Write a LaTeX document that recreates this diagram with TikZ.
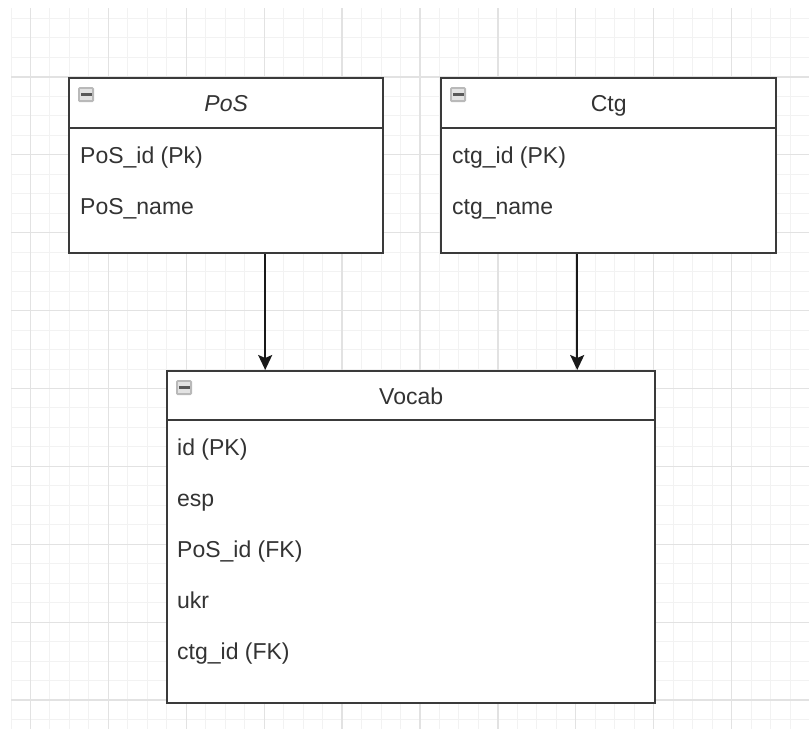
\documentclass[tikz,border=0pt]{standalone}
\usepackage{fontspec}
\setmainfont{Liberation Sans}
\usetikzlibrary{arrows.meta,calc}
\definecolor{ink}{HTML}{333333}
\definecolor{edge}{HTML}{3A3A3A}
\definecolor{gridminor}{HTML}{F2F2F2}
\definecolor{gridmajor}{HTML}{E2E2E2}

\begin{document}
\begin{tikzpicture}[x=1pt,y=-1pt,
  tablebox/.style={draw=edge, line width=2.4pt, fill=white, anchor=north west, inner sep=0pt},
  headline/.style={draw=edge, line width=2.2pt},
  title/.style={anchor=base, text=ink, inner sep=0pt, font=\fontsize{23}{27}\selectfont},
  field/.style={anchor=base west, text=ink, inner sep=0pt, font=\fontsize{23}{27}\selectfont},
  conn/.style={draw=black!90, line width=1.8pt, -{Stealth[length=15pt,width=14pt,inset=3pt]}},
  minorline/.style={draw=gridminor, line width=1pt},
  majorline/.style={draw=gridmajor, line width=1.3pt},
  collapse/.pic={
    \fill[gray!55, rounded corners=1.5pt] (0,0) rectangle (16,15);
    \fill[gray!22] (2,2) rectangle (14,13);
    \fill[gray!70!black] (2.5,6.3) rectangle (13.5,9);
  },
]
\useasboundingbox (0,0) rectangle (809,729);
\fill[white] (0,0) rectangle (809,729);

% background grid: fine lines every 19.5, heavier every fourth
\foreach \k in {0,...,41} {\draw[minorline] ({11+19.475*\k},8) -- ({11+19.475*\k},729);}
\foreach \k in {1,...,37} {\draw[minorline] (11,{-1+19.475*\k}) -- (809,{-1+19.475*\k});}
\foreach \k in {0,...,10} {\draw[majorline] ({30.5+77.9*\k},8) -- ({30.5+77.9*\k},729);}
\foreach \k in {1,...,9} {\draw[majorline] (11,{-1+77.9*\k}) -- (809,{-1+77.9*\k});}

% PoS table
\node[tablebox, minimum width=314pt, minimum height=175pt] (pos) at (68,77) {};
\draw[headline] ($(pos.north west)+(0,51)$) -- ($(pos.north east)+(0,51)$);
\pic at ($(pos.north west)+(10,10)$) {collapse};
\node[title] (posT) at ($(pos.north)+(0,34)$) {\itshape PoS};
\node[field] (posA) at ($(pos.north west)+(12,86)$) {PoS\_id (Pk)};
\node[field] (posB) at ($(pos.north west)+(12,137)$) {PoS\_name};

% Ctg table
\node[tablebox, minimum width=335pt, minimum height=175pt] (ctg) at (440,77) {};
\draw[headline] ($(ctg.north west)+(0,51)$) -- ($(ctg.north east)+(0,51)$);
\pic at ($(ctg.north west)+(10,10)$) {collapse};
\node[title] (ctgT) at ($(ctg.north)+(0,34)$) {Ctg};
\node[field] (ctgA) at ($(ctg.north west)+(12,86)$) {ctg\_id (PK)};
\node[field] (ctgB) at ($(ctg.north west)+(12,137)$) {ctg\_name};

% Vocab table
\node[tablebox, minimum width=488pt, minimum height=332pt] (vocab) at (166,370) {};
\draw[headline] ($(vocab.north west)+(0,50)$) -- ($(vocab.north east)+(0,50)$);
\pic at ($(vocab.north west)+(10,10)$) {collapse};
\node[title] (vocabT) at ($(vocab.north)+(0,34)$) {Vocab};
\node[field] (vA) at ($(vocab.north west)+(11,85)$) {id (PK)};
\node[field] (vB) at ($(vocab.north west)+(11,136.2)$) {esp};
\node[field] (vC) at ($(vocab.north west)+(11,187.4)$) {PoS\_id (FK)};
\node[field] (vD) at ($(vocab.north west)+(11,238.6)$) {ukr};
\node[field] (vE) at ($(vocab.north west)+(11,289.8)$) {ctg\_id (FK)};

% relations
\draw[conn] ([xshift=39pt]pos.south) -- ([xshift=39pt]pos.south |- vocab.north);
\draw[conn] ([xshift=-31.5pt]ctg.south) -- ([xshift=-31.5pt]ctg.south |- vocab.north);
\end{tikzpicture}
\end{document}
